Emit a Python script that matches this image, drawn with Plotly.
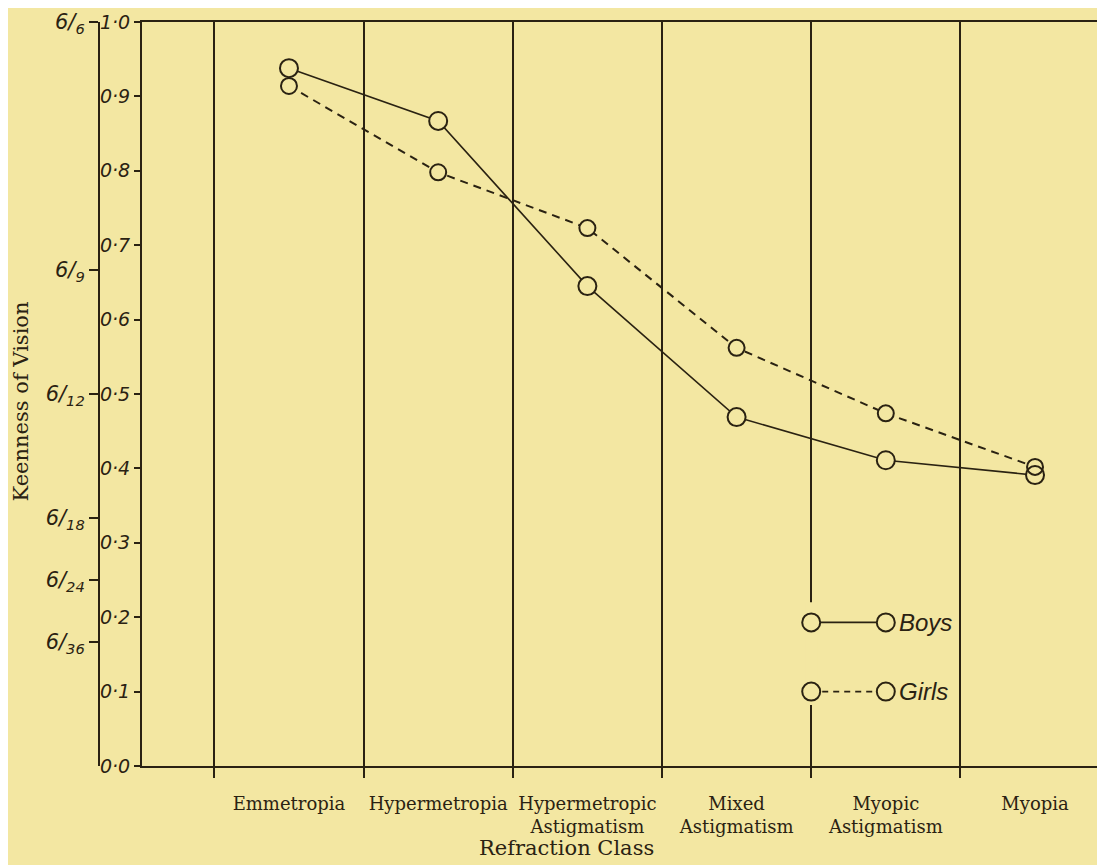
import plotly.graph_objects as go

# ---- data ----
categories = ["Emmetropia", "Hypermetropia", "Hypermetropic<br>Astigmatism",
              "Mixed<br>Astigmatism", "Myopic<br>Astigmatism", "Myopia"]
boys = [0.938, 0.867, 0.645, 0.469, 0.411, 0.391]
girls = [0.914, 0.798, 0.723, 0.562, 0.474, 0.402]
decimal_ticks = [0.0, 0.1, 0.2, 0.3, 0.4, 0.5, 0.6, 0.7, 0.8, 0.9, 1.0]
decimal_labels = ["0·0", "0·1", "0·2", "0·3", "0·4", "0·5", "0·6", "0·7", "0·8", "0·9", "1·0"]
snellen_ticks = [6/6, 6/9, 6/12, 6/18, 6/24, 6/36]
snellen_labels = ["6/<sub>6</sub>", "6/<sub>9</sub>", "6/<sub>12</sub>",
                  "6/<sub>18</sub>", "6/<sub>24</sub>", "6/<sub>36</sub>"]
boundaries = [-0.5, 0.5, 1.5, 2.5, 3.5, 4.5]

BG = "#F3E7A2"
INK = "#2a2212"
# the page body has an 8px margin, so the figure is sized to fill the rest of the window
W, H = 1097, 857
xpos = list(range(len(categories)))

fig = go.Figure()
# lines
fig.add_trace(go.Scatter(x=xpos, y=boys, mode="lines", line=dict(color=INK, width=1.6),
                         showlegend=False, hoverinfo="skip"))
fig.add_trace(go.Scatter(x=xpos, y=girls, mode="lines", line=dict(color=INK, width=2, dash="8px,6px"),
                         showlegend=False, hoverinfo="skip"))
# marker fills (hide lines inside circles)
fig.add_trace(go.Scatter(x=xpos, y=boys, mode="markers",
                         marker=dict(symbol="circle", size=18, color=BG, line=dict(width=0)),
                         showlegend=False, hoverinfo="skip"))
fig.add_trace(go.Scatter(x=xpos, y=girls, mode="markers",
                         marker=dict(symbol="circle", size=16, color=BG, line=dict(width=0)),
                         showlegend=False, hoverinfo="skip"))
# marker outlines
fig.add_trace(go.Scatter(x=xpos, y=boys, mode="markers", name="Boys",
                         marker=dict(symbol="circle-open", size=18, color=INK, line=dict(width=2, color=INK)),
                         showlegend=False))
fig.add_trace(go.Scatter(x=xpos, y=girls, mode="markers", name="Girls",
                         marker=dict(symbol="circle-open", size=16, color=INK, line=dict(width=2, color=INK)),
                         showlegend=False))
# empty trace to activate the Snellen axis
fig.add_trace(go.Scatter(x=[], y=[], yaxis="y2", showlegend=False))

serif = "DejaVu Serif"

fig.update_layout(
    width=W, height=H,
    paper_bgcolor=BG, plot_bgcolor=BG,
    margin=dict(l=0, r=0, t=14, b=99),
    showlegend=False,
    xaxis=dict(
        domain=[134 / W, 1],
        range=[-0.985, 5.469],
        tickmode="array", tickvals=xpos, ticktext=categories,
        ticks="outside", ticklen=20, tickcolor="rgba(0,0,0,0)",
        tickfont=dict(family=serif, size=18, color=INK),
        showgrid=False, zeroline=False,
        showline=True, linecolor=INK, linewidth=2, mirror=True,
        minor=dict(tickmode="array", tickvals=boundaries, ticks="outside", ticklen=10,
                   tickcolor=INK, tickwidth=1.5, showgrid=True, gridcolor=INK, gridwidth=2),
        automargin=False,
    ),
    yaxis=dict(
        domain=[0, 1], range=[0, 1.0], anchor="x",
        tickmode="array", tickvals=decimal_ticks, ticktext=decimal_labels,
        ticks="outside", ticklen=6, tickcolor=INK, tickwidth=1.5,
        tickfont=dict(family="DejaVu Sans", size=19, color=INK, style="italic"),
        ticklabeloverflow="allow",
        showgrid=False, zeroline=False,
        showline=True, linecolor=INK, linewidth=2,
        automargin=False,
    ),
    yaxis2=dict(
        overlaying="y", anchor="free", position=91 / W, side="left",
        range=[0, 1.0],
        tickmode="array", tickvals=snellen_ticks, ticktext=snellen_labels,
        ticks="outside", ticklen=9, tickcolor=INK, tickwidth=1.5,
        tickfont=dict(family="DejaVu Sans", size=21, color=INK, style="italic"),
        ticklabeloverflow="allow",
        showgrid=False, zeroline=False,
        showline=True, linecolor=INK, linewidth=2,
        automargin=False,
    ),
)

# axis titles
fig.add_annotation(text="Keenness of Vision", xref="paper", yref="paper",
                   x=13 / W, y=0.49, xanchor="center", yanchor="middle",
                   textangle=-90, showarrow=False,
                   font=dict(family=serif, size=21, color=INK))
fig.add_annotation(text="Refraction Class", xref="paper", yref="paper",
                   x=558 / W, y=-82 / 744, xanchor="center", yanchor="middle", showarrow=False,
                   font=dict(family=serif, size=21, color=INK))

# legend (drawn inside the plot, like the original)
leg_y = {"Boys": 0.193, "Girls": 0.10}
leg_x0, leg_x1 = 3.5, 4.0
fig.add_shape(type="rect", xref="x", yref="y", x0=3.46, x1=3.54, y0=0.082, y1=0.22,
              fillcolor=BG, line=dict(width=0), layer="between")
for name, dash in (("Boys", "solid"), ("Girls", "6px,5px")):
    yy = leg_y[name]
    fig.add_shape(type="line", xref="x", yref="y", x0=leg_x0, x1=leg_x1, y0=yy, y1=yy,
                  line=dict(color=INK, width=1.8, dash=dash), layer="above")
    for xx in (leg_x0, leg_x1):
        fig.add_shape(type="circle", xref="x", yref="y", xsizemode="pixel", ysizemode="pixel",
                      xanchor=xx, yanchor=yy, x0=-9, x1=9, y0=-9, y1=9,
                      fillcolor=BG, line=dict(color=INK, width=2), layer="above")
    fig.add_annotation(text=name, xref="x", yref="y", x=4.075, y=yy, xanchor="left",
                       yanchor="middle", showarrow=False,
                       font=dict(family="Liberation Sans", size=24, color=INK, style="italic"))

fig.write_html("out.html")
